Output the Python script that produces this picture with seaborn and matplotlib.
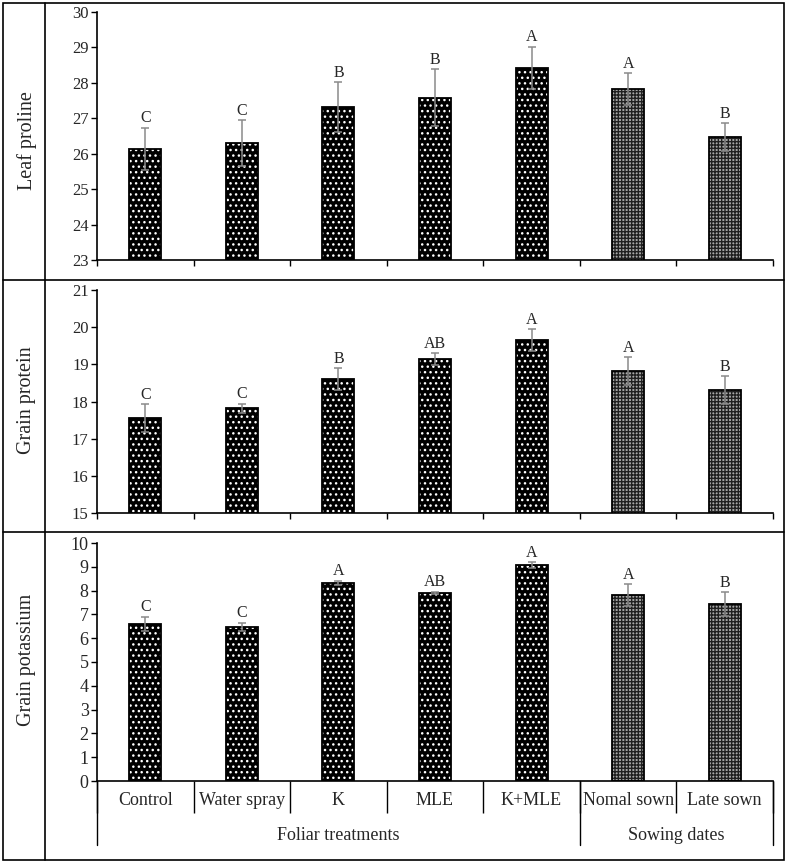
import numpy as np
import pandas as pd
import matplotlib
matplotlib.use("Agg")
import matplotlib.pyplot as plt
import seaborn as sns
from matplotlib.patches import Rectangle
from matplotlib.lines import Line2D

# datos
categories = ["Control", "Water spray", "K", "MLE", "K+MLE", "Nomal sown", "Late sown"]
groups = ["Foliar treatments"] * 5 + ["Sowing dates"] * 2

proline = [26.13, 26.3, 27.32, 27.58, 28.42, 27.83, 26.47]
proline_err = [0.6, 0.65, 0.7, 0.8, 0.6, 0.45, 0.4]
proline_let = ["C", "C", "B", "B", "A", "A", "B"]

protein = [17.55, 17.82, 18.6, 19.14, 19.65, 18.82, 18.31]
protein_err = [0.38, 0.12, 0.3, 0.16, 0.3, 0.37, 0.37]
protein_let = ["C", "C", "B", "AB", "A", "A", "B"]

potassium = [6.6, 6.47, 8.32, 7.9, 9.08, 7.82, 7.44]
potassium_err = [0.3, 0.18, 0.1, 0.05, 0.12, 0.45, 0.5]
potassium_let = ["C", "C", "A", "AB", "A", "A", "B"]

sns.set_theme(style="white")
plt.rcParams['font.family'] = ['Liberation Serif', 'DejaVu Serif']
plt.rcParams['hatch.linewidth'] = 1.0

W, H = 787, 866
fig = plt.figure(figsize=(W / 100, H / 100), dpi=100)


def box(px_left, px_top, px_right, px_bottom):
    return [px_left / W, 1 - px_bottom / H, (px_right - px_left) / W, (px_bottom - px_top) / H]


panels = [
    ("Leaf proline", proline, proline_err, proline_let, (23, 30), box(97, 12, 773, 260), 141),
    ("Grain protein", protein, protein_err, protein_let, (15, 21), box(97, 290, 773, 513), 400),
    ("Grain potassium", potassium, potassium_err, potassium_let, (0, 10), box(97, 543, 773, 781), 660),
]

for i, (label, vals, errs, lets, ylim, pos, ylab_px) in enumerate(panels):
    ax = fig.add_axes(pos)
    df = pd.DataFrame({"cat": categories, "val": vals, "grp": groups})

    # relleno con trama
    sns.barplot(data=df, x="cat", y="val", order=categories, color="black",
                width=0.33, linewidth=0, errorbar=None, ax=ax, zorder=2)
    for p, g in zip(ax.patches, groups):
        if g == "Foliar treatments":
            p.set_facecolor("black")
            p.set_edgecolor("white")
            p.set_hatch("...")
        else:
            p.set_facecolor("#a8a8a8")
            p.set_edgecolor("#202020")
            p.set_hatch("+++++")
    # contorno
    sns.barplot(data=df, x="cat", y="val", order=categories, color="black",
                width=0.33, fill=False, linewidth=1.3, errorbar=None, ax=ax, zorder=3)

    x = np.arange(len(categories))
    ax.errorbar(x, vals, yerr=errs, fmt="none", ecolor="#8a8a8a", elinewidth=1.1,
                capsize=3, capthick=1.1, zorder=4)
    for xi, v, e, t in zip(x, vals, errs, lets):
        ax.annotate(t, (xi, v + e), xytext=(0, 1), textcoords="offset points",
                    ha="center", va="bottom", fontsize=11.5)

    ax.set_ylim(*ylim)
    ax.set_yticks(np.arange(ylim[0], ylim[1] + 1, 1))
    ax.set_xlim(-0.5, len(categories) - 0.5)
    ax.set_xlabel("")
    ax.set_ylabel("")
    sns.despine(ax=ax)
    for s in ["left", "bottom"]:
        ax.spines[s].set_color("black")
        ax.spines[s].set_linewidth(1.2)
    ax.tick_params(axis="y", direction="out", length=4, width=1, color="black",
                   labelsize=12 if i < 2 else 13, pad=2, left=True)
    ax.set_xticks(np.arange(-0.5, len(categories), 1), minor=True)

    if i < 2:
        ax.set_xticks([])
        ax.tick_params(axis="x", which="minor", direction="out", length=4,
                       width=1, color="black", bottom=True)
    else:
        ax.set_xticks(x)
        ax.set_xticklabels(categories)
        ax.tick_params(axis="x", which="major", length=0, pad=8, labelsize=13)
        ax.tick_params(axis="x", which="minor", direction="out", length=23,
                       width=1, color="black", bottom=True)
        tr = ax.get_xaxis_transform()
        for xb in [-0.5, 4.5, 6.5]:
            ax.plot([xb, xb], [0, -0.27], color="black", lw=1, transform=tr, clip_on=False)
        ax.text(2.0, -0.228, "Foliar treatments", transform=tr, ha="center",
                va="center", fontsize=13)
        ax.text(5.5, -0.228, "Sowing dates", transform=tr, ha="center",
                va="center", fontsize=13)

    fig.text(27 / W, 1 - ylab_px / H, label, rotation=90, ha="center", va="center",
             fontsize=14.5)

# marco de la tabla
fig.add_artist(Rectangle((3 / W, 1 - 860 / H), 781 / W, 857 / H, fill=False,
                         edgecolor="black", lw=1.2, transform=fig.transFigure))
fig.add_artist(Line2D([45 / W, 45 / W], [1 - 3 / H, 1 - 860 / H], color="black",
                      lw=1.2, transform=fig.transFigure))
for yp in [280, 532]:
    fig.add_artist(Line2D([3 / W, 784 / W], [1 - yp / H, 1 - yp / H], color="black",
                          lw=1.2, transform=fig.transFigure))

fig.savefig("out.png", dpi=100)
